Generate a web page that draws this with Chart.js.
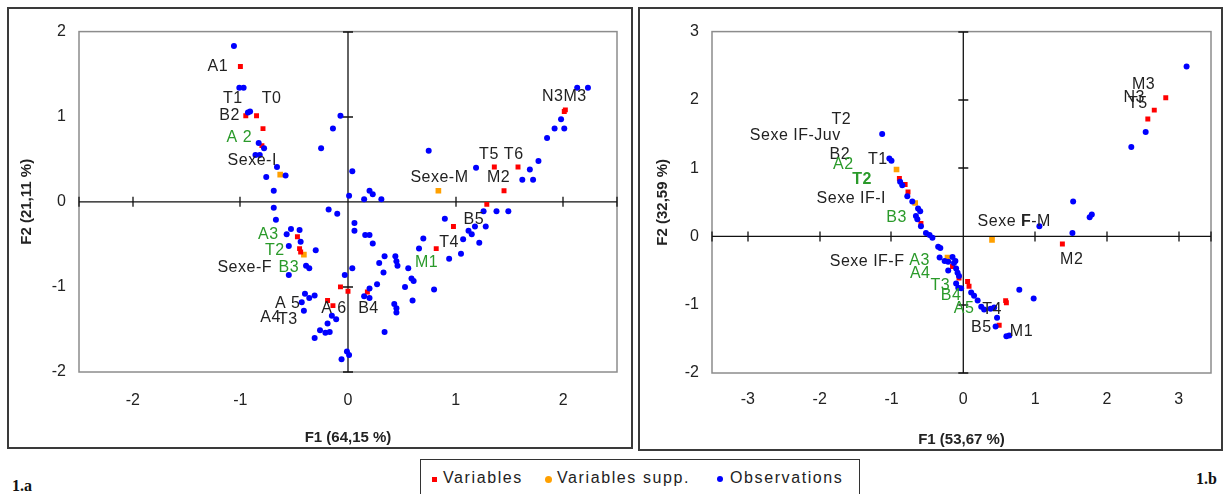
<!DOCTYPE html>
<html>
<head>
<meta charset="utf-8">
<script src="https://cdn.jsdelivr.net/npm/chart.js@4.4.1/dist/chart.umd.min.js"></script>
<style>
  body { margin: 0; width: 1224px; height: 494px; background: #fff; position: relative; overflow: hidden;
         font-family: "Liberation Sans", Arial, sans-serif; color: #222; }
  .panel { position: absolute; border: 2px solid #3a3a3a; box-sizing: border-box; background: #fff; }
  #panelA { left: 7px; top: 7px; width: 626px; height: 442px; }
  #panelB { left: 638px; top: 7px; width: 585px; height: 444px; }
  .panel canvas { display: block; }
  #legend { position: absolute; left: 420px; top: 459px; width: 440px; height: 44px; border: 1px solid #333;
            box-sizing: border-box; font-size: 16px; letter-spacing: 1.6px; }
  #legend span { position: absolute; top: 9px; white-space: nowrap; }
  #legend i { position: absolute; display: block; }
  .tag { position: absolute; font: bold 16px "Liberation Serif", "DejaVu Serif", serif; color: #111; }
</style>
</head>
<body>
<div class="panel" id="panelA"><canvas id="chartA" width="622" height="438"></canvas></div>
<div class="panel" id="panelB"><canvas id="chartB" width="581" height="440"></canvas></div>

<div id="legend">
  <i style="left:11px; top:17px; width:5px; height:5px; background:#ff0000;"></i>
  <span style="left:22px;">Variables</span>
  <i style="left:124px; top:16px; width:7px; height:7px; border-radius:50%; background:#ffa000;"></i>
  <span style="left:136px;">Variables supp.</span>
  <i style="left:296px; top:16px; width:6px; height:6px; border-radius:50%; background:#0000ff;"></i>
  <span style="left:309px;">Observations</span>
</div>
<div class="tag" style="left:12px; top:477px;">1.a</div>
<div class="tag" style="left:1196px; top:470px;">1.b</div>

<script>
// ---- 1.a : F1 x F2 (64,15 % / 21,11 %) ----
const xTicksA = [-2, -1, 0, 1, 2];
const yTicksA = [-2, -1, 0, 1, 2];

const variablesA = [
  [-1.00, 1.59], [-0.95, 1.01], [-0.85, 1.01], [-0.79, 0.86], [-0.80, 0.66],
  [2.01, 1.06], [2.02, 1.08], [1.36, 0.41], [1.58, 0.41], [1.45, 0.13],
  [1.29, -0.03], [0.98, -0.29], [0.82, -0.55], [-0.47, -0.41], [-0.45, -0.55],
  [-0.44, -0.59], [-0.07, -1.00], [0.00, -1.05], [0.18, -1.06], [-0.19, -1.16],
  [-0.14, -1.22]
];

const supplementaryA = [[-0.63, 0.32], [0.84, 0.13], [-0.41, -0.62]];

const observationsA = [
  [-1.06, 1.83], [-1.01, 1.34], [-0.97, 1.34], [-0.91, 1.06], [-0.93, 1.05],
  [-0.83, 0.69], [-0.78, 0.63], [-0.86, 0.55], [-0.82, 0.55], [-0.66, 0.41],
  [-0.58, 0.31], [-0.76, 0.29], [-0.69, 0.13], [-0.25, 0.63], [-0.69, -0.07],
  [-0.67, -0.21], [-0.53, -0.32], [-0.45, -0.33], [-0.57, -0.38], [-0.44, -0.47],
  [-0.55, -0.52], [-0.30, -0.57], [-0.39, -0.75], [-0.36, -0.78], [-0.55, -0.86],
  [-0.40, -1.08], [-0.36, -1.13], [-0.31, -1.10], [-0.43, -1.18], [-0.41, -1.28],
  [-0.15, -1.34], [-0.11, -1.38], [-0.19, -1.43], [-0.26, -1.51], [-0.21, -1.54],
  [-0.17, -1.53], [-0.31, -1.60], [-0.01, -1.76], [0.01, -1.80], [-0.06, -1.85],
  [-0.07, 1.01], [-0.14, 0.86], [0.75, 0.60], [0.04, 0.36], [0.01, 0.07],
  [0.15, 0.03], [0.20, 0.13], [0.23, 0.09], [0.31, 0.03], [1.19, 0.40],
  [1.62, 0.26], [1.72, 0.26], [1.69, 0.38], [1.77, 0.48], [1.85, 0.75],
  [1.92, 0.86], [2.01, 0.86], [1.98, 0.97], [2.13, 1.34], [2.23, 1.34],
  [1.38, -0.11], [1.49, -0.11], [1.26, -0.11], [-0.18, -0.09], [-0.10, -0.14],
  [0.90, -0.20], [0.06, -0.25], [0.06, -0.34], [0.16, -0.39], [0.20, -0.39],
  [0.23, -0.49], [1.18, -0.29], [1.28, -0.29], [1.12, -0.34], [1.15, -0.38],
  [0.70, -0.43], [1.07, -0.44], [1.22, -0.48], [0.66, -0.55], [0.94, -0.67],
  [1.05, -0.61], [0.34, -0.64], [0.44, -0.64], [0.29, -0.72], [0.45, -0.70],
  [0.46, -0.75], [0.33, -0.83], [0.56, -0.78], [0.04, -0.78], [-0.03, -0.86],
  [0.59, -0.90], [0.61, -0.93], [0.27, -0.97], [0.53, -1.00], [0.80, -1.03],
  [0.20, -1.02], [0.15, -1.11], [0.20, -1.13], [0.60, -1.16], [0.43, -1.20],
  [0.45, -1.25], [0.45, -1.30], [0.34, -1.53]
];

// [text, x, y, green]  -- |...| marks a bold run
const labelsA = [
  ['A1', -1.21, 1.59], ['T1', -1.07, 1.21], ['T0', -0.71, 1.21], ['B2', -1.10, 1.01],
  ['A 2', -1.01, 0.75, true], ['Sexe-I', -0.89, 0.48], ['N3M3', 2.01, 1.24],
  ['T5', 1.31, 0.56], ['T6', 1.54, 0.56], ['Sexe-M', 0.85, 0.29], ['M2', 1.40, 0.29],
  ['B5', 1.17, -0.21], ['T4', 0.94, -0.48], ['M1', 0.73, -0.72, true],
  ['A3', -0.74, -0.38, true], ['T2', -0.68, -0.57, true], ['Sexe-F', -0.96, -0.77],
  ['B3', -0.55, -0.77, true], ['A 5', -0.56, -1.20], ['A4', -0.72, -1.36],
  ['T3', -0.56, -1.38], ['A 6', -0.13, -1.25], ['B4', 0.19, -1.25]
];

// ---- 1.b : F1 x F2 (53,67 % / 32,59 %) ----
const xTicksB = [-3, -2, -1, 0, 1, 2, 3];
const yTicksB = [-2, -1, 0, 1, 2, 3];

const variablesB = [
  [-0.89, 0.85], [-0.81, 0.76], [-0.77, 0.65], [-0.59, 0.19], [-0.15, -0.44],
  [-0.06, -0.61], [0.06, -0.66], [0.08, -0.73], [0.59, -0.94], [0.60, -0.97],
  [0.50, -1.30], [1.38, -0.11], [2.82, 2.03], [2.66, 1.85], [2.57, 1.72]
];

const supplementaryB = [[-0.93, 0.98], [-0.67, 0.49], [-0.22, -0.31], [0.40, -0.05]];

const observationsB = [
  [-1.13, 1.50], [-1.03, 1.14], [-1.00, 1.11], [-0.88, 0.80], [-0.85, 0.75],
  [-0.78, 0.59], [-0.71, 0.51], [-0.63, 0.41], [-0.60, 0.37], [-0.66, 0.30],
  [-0.64, 0.25], [-0.59, 0.15], [-0.52, 0.05], [-0.47, 0.02], [-0.43, -0.02],
  [-0.35, -0.15], [-0.32, -0.17], [-0.33, -0.31], [-0.26, -0.36], [-0.21, -0.37],
  [-0.15, -0.30], [-0.11, -0.36], [-0.21, -0.50], [-0.10, -0.47], [-0.08, -0.53],
  [-0.06, -0.58], [-0.10, -0.69], [-0.07, -0.75], [-0.03, -0.76], [-0.13, -0.39],
  [0.11, -0.82], [0.15, -0.87], [0.20, -0.94], [0.25, -1.03], [0.29, -1.07],
  [0.38, -1.06], [0.43, -1.04], [0.78, -0.78], [0.98, -0.91], [0.47, -1.19],
  [0.45, -1.32], [0.64, -1.45], [0.60, -1.46], [1.06, 0.15], [1.52, 0.05],
  [1.76, 0.28], [1.79, 0.32], [1.53, 0.51], [3.11, 2.49], [2.54, 1.53],
  [2.34, 1.31]
];

const labelsB = [
  ['T2', -1.70, 1.71], ['Sexe IF-Juv', -2.34, 1.47], ['B2', -1.72, 1.20],
  ['A2', -1.67, 1.05, true], ['T1', -1.19, 1.13], ['|T2|', -1.41, 0.83, true],
  ['Sexe IF-I', -1.56, 0.56], ['B3', -0.93, 0.27, true], ['Sexe |F|-M', 0.71, 0.22],
  ['M3', 2.51, 2.23], ['N3', 2.38, 2.04], ['T5', 2.43, 1.94], ['M2', 1.51, -0.34],
  ['Sexe IF-F', -1.34, -0.37], ['A3', -0.61, -0.36, true], ['A4', -0.60, -0.55, true],
  ['T3', -0.32, -0.72, true], ['B4', -0.17, -0.87, true], ['A5', 0.01, -1.06, true],
  ['T4', 0.40, -1.07], ['B5', 0.25, -1.33], ['M1', 0.81, -1.39]
];

const FONT = '"Liberation Sans", Arial, sans-serif';
const INK = '#222';
const GREEN = '#2a9a2a';

Chart.defaults.font.family = FONT;
Chart.defaults.color = INK;

const toPoints = (rows) => rows.map(([x, y]) => ({ x, y }));

// frame, axes through the origin, and the point labels
const crossAxes = {
  id: 'crossAxes',
  beforeDatasetsDraw(chart) {
    const { ctx, chartArea: a, scales: { x, y } } = chart;
    const x0 = x.getPixelForValue(0);
    const y0 = y.getPixelForValue(0);
    ctx.save();
    ctx.strokeStyle = '#8c8c8c';
    ctx.lineWidth = 1.5;
    ctx.strokeRect(a.left, a.top, a.right - a.left, a.bottom - a.top);

    ctx.strokeStyle = '#111';
    ctx.lineWidth = 1.3;
    ctx.beginPath();
    ctx.moveTo(a.left, y0); ctx.lineTo(a.right, y0);
    ctx.moveTo(x0, a.top); ctx.lineTo(x0, a.bottom);
    const xm = [x.min, ...x.ticks.map(t => t.value), x.max];
    xm.forEach(v => {
      if (v === 0) return;
      const px = Math.round(x.getPixelForValue(v));
      ctx.moveTo(px, y0 - 5); ctx.lineTo(px, y0 + 5);
    });
    const ym = [y.min, ...y.ticks.map(t => t.value), y.max];
    ym.forEach(v => {
      if (v === 0) return;
      const py = Math.round(y.getPixelForValue(v));
      ctx.moveTo(x0 - 5, py); ctx.lineTo(x0 + 5, py);
    });
    ctx.stroke();
    ctx.restore();
  },
  afterDatasetsDraw(chart, args, opts) {
    const { ctx, scales: { x, y } } = chart;
    ctx.save();
    ctx.textBaseline = 'middle';
    ctx.textAlign = 'left';
    ctx.letterSpacing = '0.5px';
    (opts.labels || []).forEach(([text, lx, ly, green]) => {
      const parts = text.split('|');
      const fonts = parts.map((p, i) => (i % 2 ? 'bold ' : '') + '16px ' + FONT);
      let total = 0;
      parts.forEach((p, i) => { ctx.font = fonts[i]; total += ctx.measureText(p).width; });
      let px = x.getPixelForValue(lx) - total / 2;
      const py = y.getPixelForValue(ly);
      ctx.fillStyle = green ? GREEN : INK;
      parts.forEach((p, i) => {
        ctx.font = fonts[i];
        ctx.fillText(p, px, py);
        px += ctx.measureText(p).width;
      });
    });
    ctx.restore();
  }
};

function makeChart(id, cfg) {
  const pinTicks = (values) => (scale) => { scale.ticks = values.map(value => ({ value })); };
  return new Chart(document.getElementById(id), {
    type: 'scatter',
    data: {
      datasets: [
        { label: 'Observations', data: toPoints(cfg.observations), backgroundColor: '#0000ff',
          pointStyle: 'circle', pointRadius: 3, borderWidth: 0 },
        { label: 'Variables', data: toPoints(cfg.variables), backgroundColor: '#ff0000',
          pointStyle: 'rect', pointRadius: 3.5, borderWidth: 0 },
        { label: 'Variables supp.', data: toPoints(cfg.supplementary), backgroundColor: '#ffa000',
          pointStyle: 'rect', pointRadius: 4, borderWidth: 0 }
      ]
    },
    options: {
      responsive: false,
      animation: false,
      events: [],
      layout: { padding: cfg.padding },
      plugins: {
        legend: { display: false },
        tooltip: { enabled: false },
        crossAxes: { labels: cfg.labels }
      },
      scales: {
        x: {
          type: 'linear', min: cfg.xRange[0], max: cfg.xRange[1],
          afterBuildTicks: pinTicks(cfg.xTicks),
          afterFit: (s) => { s.height = cfg.xHeight; },
          grid: { display: false, drawTicks: false },
          border: { display: false },
          ticks: { padding: cfg.xPad, font: { size: 16 }, color: INK },
          title: { display: true, text: cfg.xTitle, font: { size: 15, weight: 'bold' },
                   color: INK, padding: { top: cfg.xTitlePad, bottom: 0 } }
        },
        y: {
          type: 'linear', min: cfg.yRange[0], max: cfg.yRange[1],
          afterBuildTicks: pinTicks(cfg.yTicks),
          afterFit: (s) => { s.width = cfg.yWidth; },
          grid: { display: false, drawTicks: false },
          border: { display: false },
          ticks: { padding: 13, font: { size: 16 }, color: INK },
          title: { display: true, text: cfg.yTitle, font: { size: 15, weight: 'bold' },
                   color: INK, padding: { top: cfg.yTitlePad, bottom: 0 } }
        }
      }
    },
    plugins: [crossAxes]
  });
}

makeChart('chartA', {
  observations: observationsA, variables: variablesA, supplementary: supplementaryA,
  labels: labelsA, xTicks: xTicksA, yTicks: yTicksA,
  xRange: [-2.5, 2.5], yRange: [-2, 2],
  padding: { top: 15, right: 14, left: 0, bottom: 0 },
  xHeight: 75, yWidth: 70, xPad: 19, xTitlePad: 2, yTitlePad: 9,
  xTitle: 'F1 (64,15 %)', yTitle: 'F2 (21,11 %)'
});

makeChart('chartB', {
  observations: observationsB, variables: variablesB, supplementary: supplementaryB,
  labels: labelsB, xTicks: xTicksB, yTicks: yTicksB,
  xRange: [-3.5, 3.45], yRange: [-2, 3],
  padding: { top: 20, right: 10, left: 0, bottom: 0 },
  xHeight: 76, yWidth: 72, xPad: 17, xTitlePad: 7, yTitlePad: 14,
  xTitle: 'F1 (53,67 %)', yTitle: 'F2 (32,59 %)'
});
</script>
</body>
</html>
